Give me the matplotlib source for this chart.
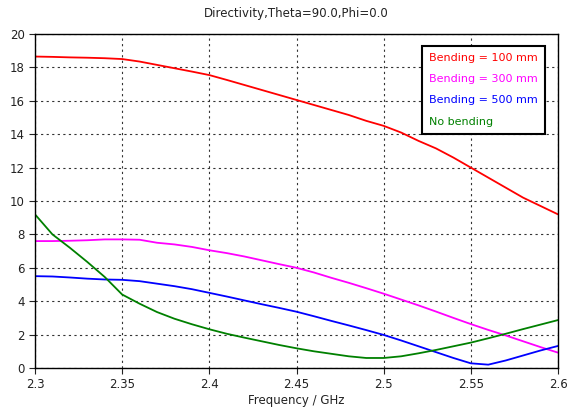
import matplotlib
matplotlib.use("Agg")
import matplotlib.pyplot as plt
import numpy as np

freq = [2.30, 2.31, 2.32, 2.33, 2.34, 2.35, 2.36, 2.37, 2.38, 2.39, 2.40,
        2.41, 2.42, 2.43, 2.44, 2.45, 2.46, 2.47, 2.48, 2.49, 2.50,
        2.51, 2.52, 2.53, 2.54, 2.55, 2.56, 2.57, 2.58, 2.59, 2.60]

bend_100 = [18.65, 18.63, 18.60, 18.58, 18.55, 18.50, 18.35, 18.15, 17.95, 17.75, 17.54,
            17.25, 16.95, 16.65, 16.35, 16.05, 15.75, 15.45, 15.15, 14.80, 14.50,
            14.10, 13.60, 13.15, 12.60, 12.00, 11.40, 10.80, 10.20, 9.70, 9.20]

bend_300 = [7.60, 7.60, 7.62, 7.65, 7.70, 7.70, 7.68, 7.50, 7.40, 7.25, 7.05,
            6.88, 6.68, 6.45, 6.22, 6.00, 5.72, 5.40, 5.10, 4.78, 4.45,
            4.10, 3.75, 3.38, 3.00, 2.63, 2.28, 1.95, 1.60, 1.25, 0.92]

bend_500 = [5.50, 5.48, 5.42, 5.35, 5.30, 5.28, 5.20, 5.05, 4.90, 4.72, 4.50,
            4.28, 4.05, 3.82, 3.60, 3.37, 3.10, 2.82, 2.55, 2.27, 1.98,
            1.65, 1.30, 0.95, 0.60, 0.28, 0.20, 0.45, 0.75, 1.05, 1.32]

no_bend = [9.20, 8.00, 7.20, 6.35, 5.45, 4.40, 3.85, 3.35, 2.95, 2.62, 2.32,
           2.05, 1.82, 1.60, 1.38, 1.18, 1.00, 0.85, 0.70, 0.60, 0.60,
           0.70, 0.88, 1.08, 1.30, 1.52, 1.78, 2.05, 2.33, 2.60, 2.87]

labels = ["Bending = 100 mm", "Bending = 300 mm", "Bending = 500 mm", "No bending"]
colors = ["#ff0000", "#ff00ff", "#0000ff", "#008000"]
series = [bend_100, bend_300, bend_500, no_bend]

x_ticks = [2.3, 2.35, 2.4, 2.45, 2.5, 2.55, 2.6]
x_tick_labels = ["2.3", "2.35", "2.4", "2.45", "2.5", "2.55", "2.6"]
y_ticks = [0, 2, 4, 6, 8, 10, 12, 14, 16, 18, 20]

plt.rcParams['font.family'] = ['DejaVu Sans']
fig = plt.figure(figsize=(5.72, 4.16), dpi=100)
ax = fig.add_axes([35/572, 1-368/416, (558-35)/572, (368-34)/416])

for s, c, l in zip(series, colors, labels):
    ax.plot(freq, s, color=c, lw=1.3, label=l)

ax.set_xlim(2.3, 2.6)
ax.set_ylim(0, 20)
ax.set_xticks(x_ticks)
ax.set_xticklabels(x_tick_labels)
ax.set_yticks(y_ticks)
ax.tick_params(labelsize=8.5, length=4, width=0.8, direction='out', colors='#222222')
ax.grid(True, color='#333333', linestyle=(0, (2, 3)), lw=0.8)
for sp in ax.spines.values():
    sp.set_linewidth(1.0)
    sp.set_color('black')

ax.set_xlabel("Frequency / GHz", fontsize=8.5, color='#222222', labelpad=2)
fig.text((35+558)/2/572, 1-13/416, "Directivity,Theta=90.0,Phi=0.0",
         ha='center', va='center', fontsize=8.5, color='#222222')

leg = ax.legend(loc='upper right', bbox_to_anchor=((545-35)/523, (368-46)/334),
                handlelength=0, handletextpad=0, fontsize=8, fancybox=False,
                framealpha=1, edgecolor='black', borderpad=0.65, labelspacing=1.0,
                borderaxespad=0)
leg.get_frame().set_linewidth(1.5)
for h in leg.legend_handles:
    h.set_visible(False)
for t, c in zip(leg.get_texts(), colors):
    t.set_color(c)

fig.savefig("out.png", dpi=100)
